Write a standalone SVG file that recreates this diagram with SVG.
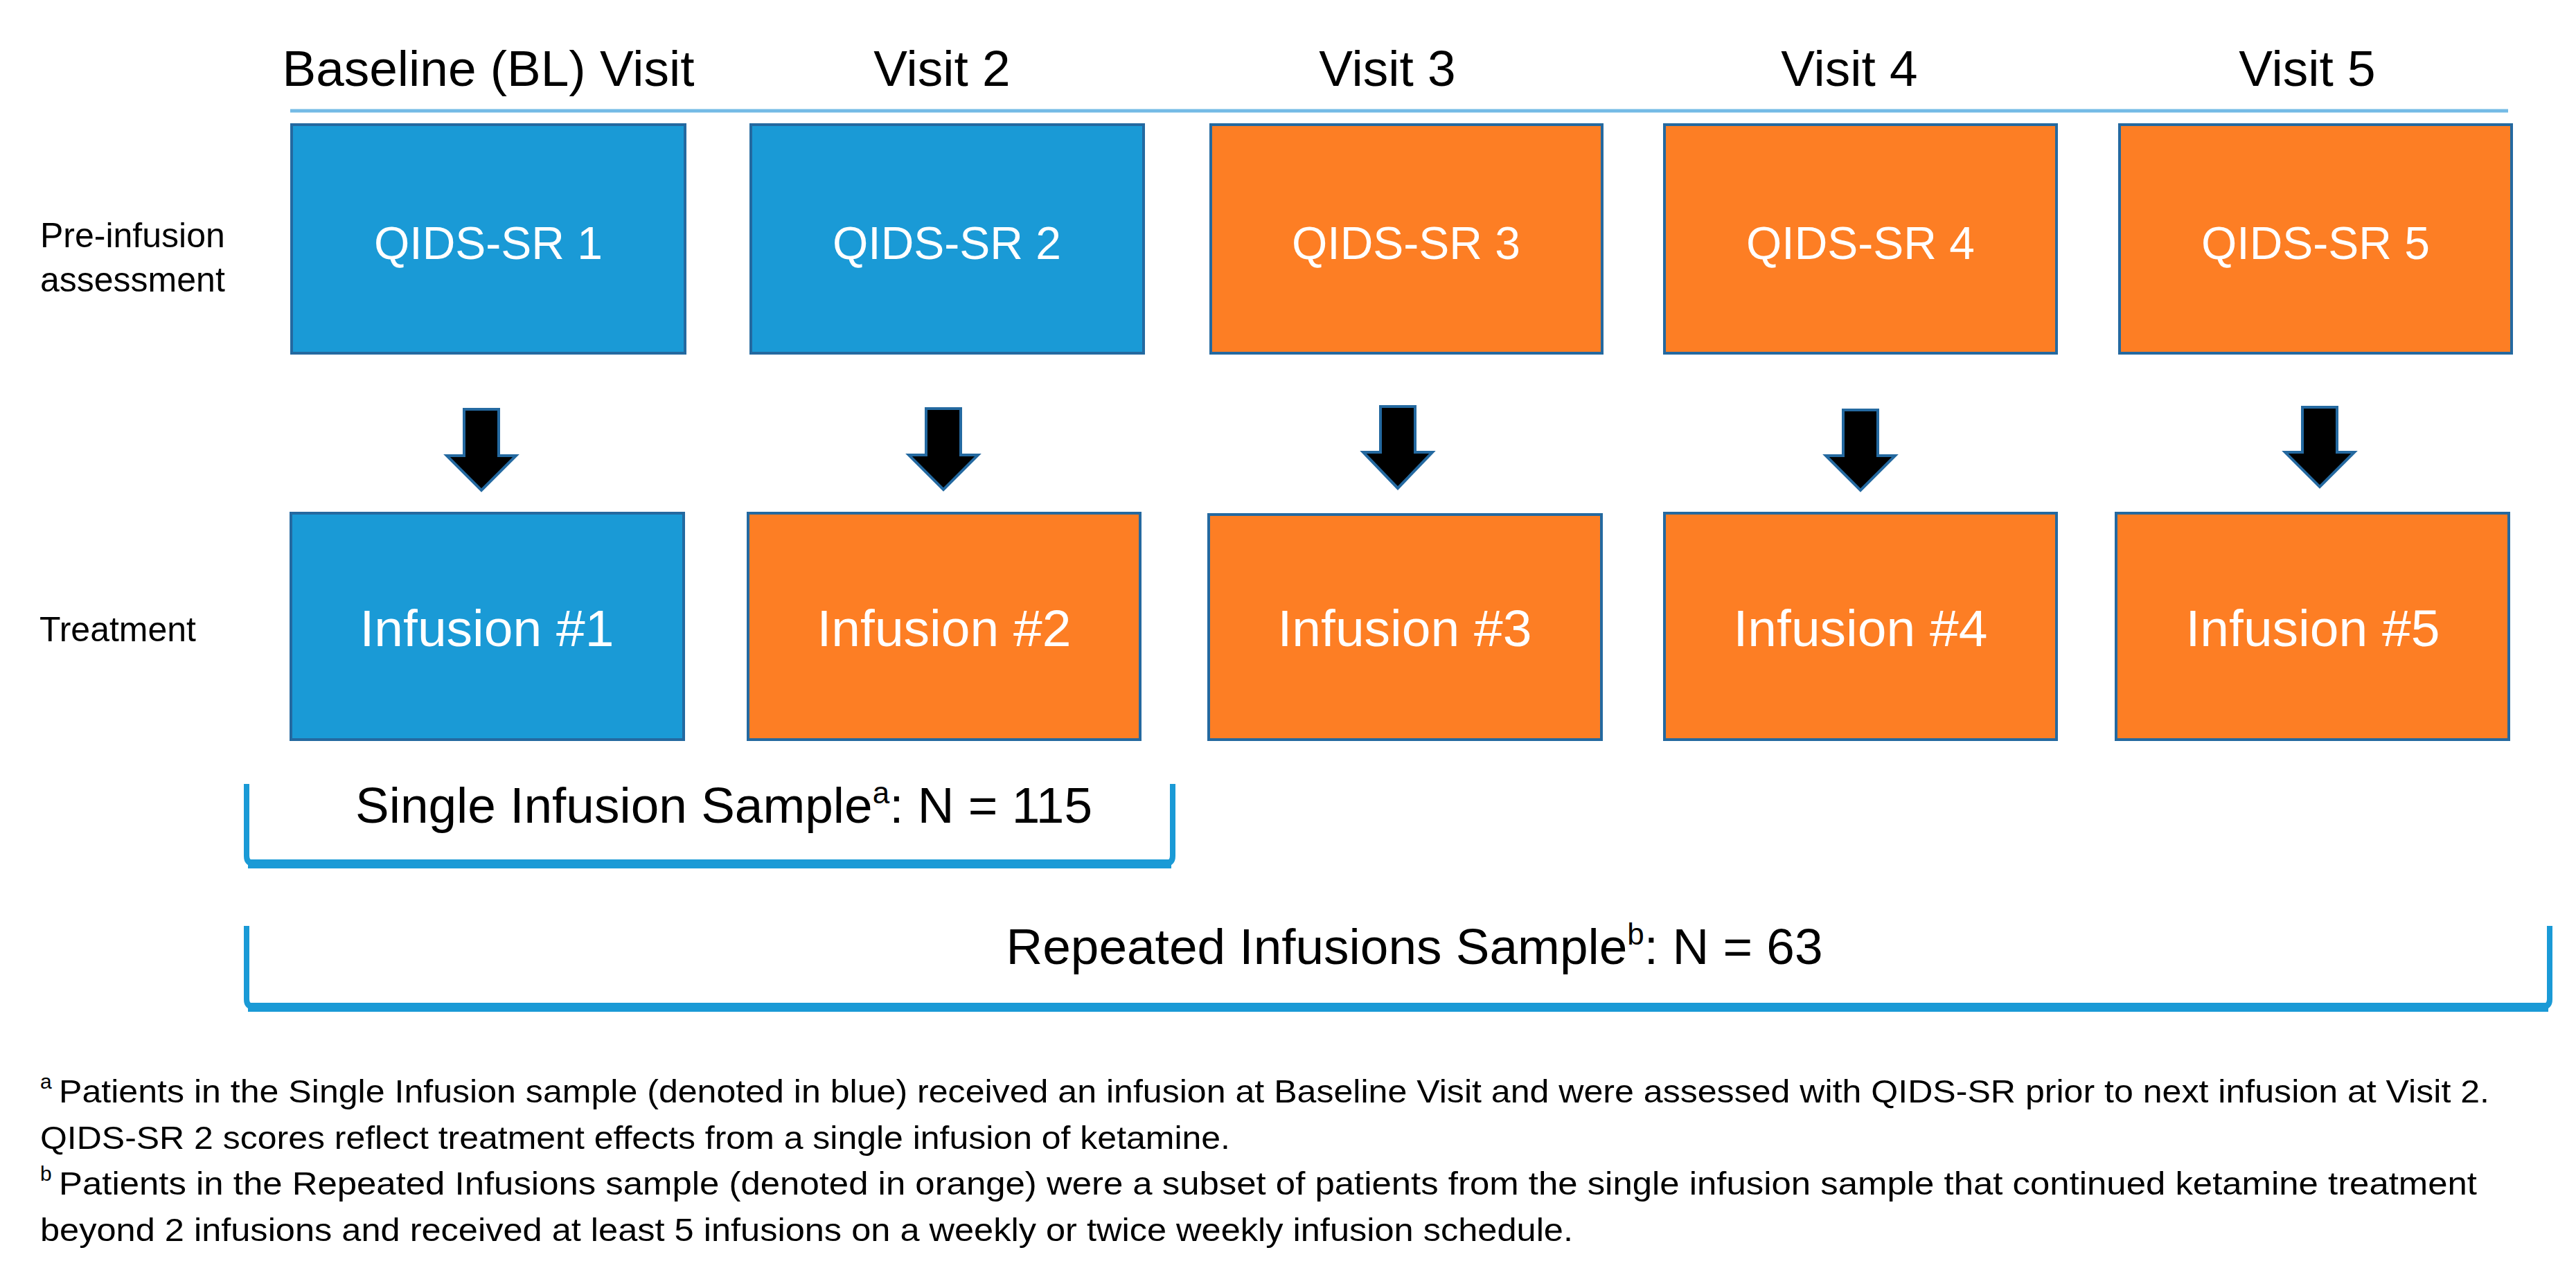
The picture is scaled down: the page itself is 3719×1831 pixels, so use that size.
<svg xmlns="http://www.w3.org/2000/svg" width="3719" height="1831" viewBox="0 0 3719 1831">
<style>
.blue{fill:#1a9ad6;stroke:#2469a0;stroke-width:4}
.orange{fill:#fd7e24;stroke:#2469a0;stroke-width:4}
.bt{font-family:"Liberation Sans",Arial,sans-serif;fill:#ffffff;text-anchor:middle}
.q{font-size:66px}
.inf{font-size:75px}
.hdr{font-family:"Liberation Sans",Arial,sans-serif;font-size:73px;fill:#000;text-anchor:middle}
.lab{font-family:"Liberation Sans",Arial,sans-serif;font-size:50px;fill:#000}
.samp{font-family:"Liberation Sans",Arial,sans-serif;font-size:73px;fill:#000;text-anchor:middle}
.fn{font-family:"Liberation Sans",Arial,sans-serif;font-size:47px;fill:#000}
.sup{font-family:"Liberation Sans",Arial,sans-serif;font-size:30px;fill:#000}
.arrow{fill:#000;stroke:#2469a0;stroke-width:4;stroke-linejoin:miter}
.brk{fill:none;stroke:#1a9ad6;stroke-width:8}
.brkb{fill:#1a9ad6}
</style>
<rect width="3719" height="1831" fill="#ffffff"/>

<g id="headers">
<text class="hdr" x="705" y="124">Baseline (BL) Visit</text>
<text class="hdr" x="1360" y="124">Visit 2</text>
<text class="hdr" x="2003" y="124">Visit 3</text>
<text class="hdr" x="2670" y="124">Visit 4</text>
<text class="hdr" x="3331" y="124">Visit 5</text>
<line x1="419" y1="160" x2="3621" y2="160" stroke="#74bbe6" stroke-width="5"/>
</g>

<g id="row-labels">
<text class="lab" x="58" y="357">Pre-infusion</text>
<text class="lab" x="58" y="421">assessment</text>
<text class="lab" x="57" y="926">Treatment</text>
</g>

<g id="qids1"><rect class="blue" x="421" y="180" width="568" height="330"/><text class="bt q" x="705" y="374">QIDS-SR 1</text></g>
<g id="qids2"><rect class="blue" x="1084" y="180" width="567" height="330"/><text class="bt q" x="1367" y="374">QIDS-SR 2</text></g>
<g id="qids3"><rect class="orange" x="1748" y="180" width="565" height="330"/><text class="bt q" x="2030" y="374">QIDS-SR 3</text></g>
<g id="qids4"><rect class="orange" x="2403" y="180" width="566" height="330"/><text class="bt q" x="2686" y="374">QIDS-SR 4</text></g>
<g id="qids5"><rect class="orange" x="3060" y="180" width="566" height="330"/><text class="bt q" x="3343" y="374">QIDS-SR 5</text></g>

<g id="inf1"><rect class="blue" x="420" y="741" width="567" height="327"/><text class="bt inf" x="703" y="933">Infusion #1</text></g>
<g id="inf2"><rect class="orange" x="1080" y="741" width="566" height="327"/><text class="bt inf" x="1363" y="933">Infusion #2</text></g>
<g id="inf3"><rect class="orange" x="1745" y="743" width="567" height="325"/><text class="bt inf" x="2028" y="933">Infusion #3</text></g>
<g id="inf4"><rect class="orange" x="2403" y="741" width="566" height="327"/><text class="bt inf" x="2686" y="933">Infusion #4</text></g>
<g id="inf5"><rect class="orange" x="3055" y="741" width="567" height="327"/><text class="bt inf" x="3339" y="933">Infusion #5</text></g>

<g id="connectors">
<path class="arrow" d="M670,591 L720,591 L720,658 L745,658 L695,708 L645,658 L670,658 Z"/>
<path class="arrow" d="M1337,590 L1387,590 L1387,657 L1412,657 L1362,707 L1312,657 L1337,657 Z"/>
<path class="arrow" d="M1993,587 L2043,587 L2043,653 L2068,653 L2018,705 L1968,653 L1993,653 Z"/>
<path class="arrow" d="M2661,592 L2711,592 L2711,658 L2736,658 L2686,708 L2636,658 L2661,658 Z"/>
<path class="arrow" d="M3324,588 L3374,588 L3374,653 L3399,653 L3349,703 L3299,653 L3324,653 Z"/>
</g>

<g id="single-sample">
<path class="brk" d="M356,1132 L356,1236 Q356,1247 367,1247 L1682,1247 Q1693,1247 1693,1236 L1693,1132"/>
<rect class="brkb" x="358" y="1241" width="1333" height="13"/>
<text class="samp" x="1045" y="1188">Single Infusion Sample<tspan font-size="44" dy="-28">a</tspan><tspan dy="28">: N = 115</tspan></text>
</g>

<g id="repeated-sample">
<path class="brk" d="M356,1337 L356,1443 Q356,1454 367,1454 L3670,1454 Q3681,1454 3681,1443 L3681,1337"/>
<rect class="brkb" x="358" y="1448" width="3321" height="13"/>
<text class="samp" x="2042" y="1392">Repeated Infusions Sample<tspan font-size="44" dy="-28">b</tspan><tspan dy="28">: N = 63</tspan></text>
</g>

<g id="footnotes">
<text class="sup" x="58" y="1572">a</text>
<text class="fn" x="85" y="1592" textLength="3509" lengthAdjust="spacingAndGlyphs">Patients in the Single Infusion sample (denoted in blue) received an infusion at Baseline Visit and were assessed with QIDS-SR prior to next infusion at Visit 2.</text>
<text class="fn" x="58" y="1659" textLength="1718" lengthAdjust="spacingAndGlyphs">QIDS-SR 2 scores reflect treatment effects from a single infusion of ketamine.</text>
<text class="sup" x="58" y="1705">b</text>
<text class="fn" x="85" y="1725" textLength="3491" lengthAdjust="spacingAndGlyphs">Patients in the Repeated Infusions sample (denoted in orange) were a subset of patients from the single infusion sample that continued ketamine treatment</text>
<text class="fn" x="58" y="1792" textLength="2213" lengthAdjust="spacingAndGlyphs">beyond 2 infusions and received at least 5 infusions on a weekly or twice weekly infusion schedule.</text>
</g>
</svg>
